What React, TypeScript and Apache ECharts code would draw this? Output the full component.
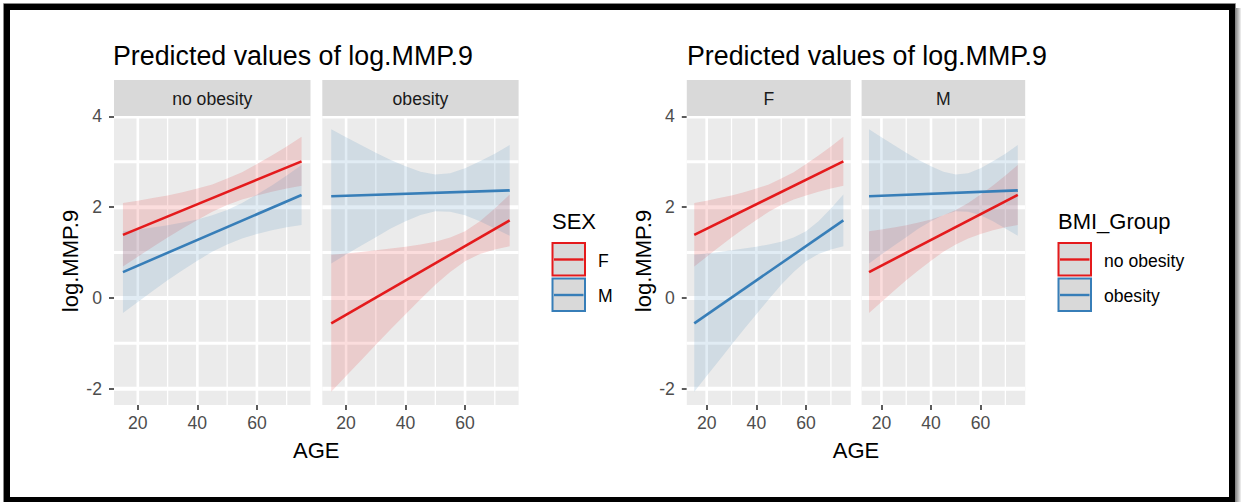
import React, { useEffect, useRef } from 'react';
import * as echarts from 'echarts';

// ---------- data ----------
const ages = [15, 20, 25, 30, 35, 40, 45, 50, 55, 60, 65, 70, 75];
const lineAges = [15, 75];

// predicted lines (endpoints at age 15 and 75)
const fNoObLine = [1.39, 3.01];
const mNoObLine = [0.57, 2.27];
const fObLine = [-0.56, 1.71];
const mObLine = [2.24, 2.37];

// confidence ribbons
const fNoObUpper = [2.09, 2.14, 2.2, 2.26, 2.33, 2.41, 2.5, 2.63, 2.77, 2.95, 3.14, 3.34, 3.55];
const fNoObLower = [0.69, 0.91, 1.12, 1.33, 1.53, 1.72, 1.9, 2.05, 2.17, 2.26, 2.34, 2.41, 2.47];
const mNoObUpper = [1.47, 1.51, 1.55, 1.6, 1.66, 1.73, 1.82, 1.94, 2.09, 2.28, 2.48, 2.7, 2.93];
const mNoObLower = [-0.33, -0.09, 0.15, 0.39, 0.61, 0.82, 1.02, 1.18, 1.31, 1.41, 1.49, 1.56, 1.61];
const mObUpper = [3.72, 3.54, 3.37, 3.2, 3.04, 2.9, 2.78, 2.72, 2.75, 2.86, 3.01, 3.18, 3.37];
const mObLower = [0.76, 0.96, 1.15, 1.34, 1.53, 1.69, 1.83, 1.91, 1.9, 1.82, 1.69, 1.53, 1.37];
const fObUpper = [0.95, 0.98, 1.01, 1.05, 1.09, 1.13, 1.18, 1.24, 1.33, 1.47, 1.69, 1.97, 2.28];
const fObLower = [-2.07, -1.72, -1.38, -1.03, -0.69, -0.36, -0.03, 0.29, 0.57, 0.81, 0.97, 1.07, 1.14];

const xTicks = [20, 40, 60];
const xMinor = [30, 50, 70];
const yTicks = [-2, 0, 2, 4];
const yMinor = [-1, 1, 3];

const leftFacets = ['no obesity', 'obesity'];
const rightFacets = ['F', 'M'];
const leftLegendTitle = 'SEX';
const leftLegend = ['F', 'M'];
const rightLegendTitle = 'BMI_Group';
const rightLegend = ['no obesity', 'obesity'];
const titleText = 'Predicted values of log.MMP.9';
const yName = 'log.MMP.9';
const xName = 'AGE';

// ---------- style ----------
const RED = '#E41A1C';
const BLUE = '#377EB8';
const RED_FILL = 'rgba(228,26,28,0.15)';
const BLUE_FILL = 'rgba(55,126,184,0.15)';
const FONT = '"Liberation Sans", Arial, Helvetica, sans-serif';
const X_MIN = 12;
const X_MAX = 78;
const Y_MIN = -2.36;
const Y_MAX = 4.01;
const PANEL_TOP = 116;
const PANEL_H = 289;
const STRIP_TOP = 80;
const STRIP_H = 36;

const panels = [
  { left: 114, width: 196.5 },
  { left: 322.3, width: 196.3 },
  { left: 686.8, width: 164 },
  { left: 861.6, width: 163.6 },
];

function ribbon(gi: number, lower: number[], upper: number[], fill: string) {
  return {
    type: 'custom',
    xAxisIndex: gi,
    yAxisIndex: gi,
    silent: true,
    clip: true,
    z: 2,
    data: ages.map((a, i) => [a, lower[i], upper[i]]),
    encode: { x: 0, y: [1, 2] },
    renderItem: (params: any, api: any) => {
      if (params.dataIndexInside !== 0) return null;
      const n = params.dataInsideLength;
      const top: number[][] = [];
      const bot: number[][] = [];
      for (let i = 0; i < n; i++) {
        const x = api.value(0, i);
        top.push(api.coord([x, api.value(2, i)]));
        bot.push(api.coord([x, api.value(1, i)]));
      }
      return {
        type: 'polygon',
        shape: { points: top.concat(bot.reverse()) },
        style: { fill },
      };
    },
  };
}

function line(gi: number, vals: number[], color: string) {
  return {
    type: 'line',
    xAxisIndex: gi,
    yAxisIndex: gi,
    silent: true,
    z: 3,
    symbol: 'none',
    data: lineAges.map((a, i) => [a, vals[i]]),
    lineStyle: { color, width: 2.6 },
    itemStyle: { color },
  };
}

function gridLine(gi: number, v: number, orient: 'h' | 'v', width: number, z: number) {
  const data = orient === 'h' ? [[X_MIN, v], [X_MAX, v]] : [[v, Y_MIN], [v, Y_MAX]];
  return {
    type: 'line',
    xAxisIndex: gi,
    yAxisIndex: gi,
    silent: true,
    z,
    symbol: 'none',
    data,
    lineStyle: { color: '#ffffff', width },
    itemStyle: { color: '#ffffff' },
  };
}

function txt(text: string, x: number, y: number, size: number, opts: any = {}) {
  return {
    type: 'text',
    x,
    y,
    rotation: opts.rotation || 0,
    silent: true,
    z: 10,
    style: {
      text,
      fill: opts.fill || '#000000',
      font: `${size}px ${FONT}`,
      align: opts.align || 'left',
      verticalAlign: 'middle',
    },
  };
}

function legendBlock(x: number, title: string, labels: string[]) {
  const colors = [RED, BLUE];
  const els: any[] = [txt(title, x, 221, 22)];
  labels.forEach((lab, i) => {
    const y0 = 243 + i * 35.5;
    els.push({
      type: 'rect',
      silent: true,
      z: 10,
      shape: { x: x + 0.5, y: y0, width: 32.5, height: 32.5 },
      style: { fill: '#d9d9d9', stroke: colors[i], lineWidth: 2 },
    });
    els.push({
      type: 'line',
      silent: true,
      z: 11,
      shape: { x1: x + 2, y1: y0 + 16.5, x2: x + 31.5, y2: y0 + 16.5 },
      style: { stroke: colors[i], lineWidth: 2.4 },
    });
    els.push(txt(lab, x + 46, y0 + 17.5, 17.6));
  });
  return els;
}

export default function App() {
  const ref = useRef<HTMLDivElement>(null);

  useEffect(() => {
    if (!ref.current) return;
    const chart = echarts.init(ref.current, undefined, { renderer: 'svg' });

    const grid = panels.map((p) => ({
      left: p.left,
      top: PANEL_TOP,
      width: p.width,
      height: PANEL_H,
      show: true,
      backgroundColor: '#EBEBEB',
      borderWidth: 0,
    }));

    const xAxis = panels.map((_, i) => ({
      type: 'value',
      gridIndex: i,
      min: X_MIN,
      max: X_MAX,
      axisLine: { show: false, onZero: false },
      splitLine: { show: false },
      axisTick: {
        show: true,
        customValues: xTicks,
        length: 5,
        lineStyle: { color: '#333333', width: 1.6 },
      },
      axisLabel: {
        show: true,
        customValues: xTicks,
        margin: 9,
        color: '#4D4D4D',
        fontSize: 17.6,
        fontFamily: FONT,
      },
    }));

    const yAxis = panels.map((_, i) =>
      i % 2 === 1
        ? {
            type: 'value',
            gridIndex: i,
            min: Y_MIN,
            max: Y_MAX,
            axisLine: { show: false, onZero: false },
            splitLine: { show: false },
            axisTick: { show: false },
            axisLabel: { show: false },
          }
        : {
            type: 'value',
            gridIndex: i,
            min: Y_MIN,
            max: Y_MAX,
            axisLine: { show: false, onZero: false },
            splitLine: { show: false },
            axisTick: {
              show: true,
              customValues: yTicks,
              length: 5,
              lineStyle: { color: '#333333', width: 1.6 },
            },
            axisLabel: {
              show: true,
              customValues: yTicks,
              margin: 12,
              color: '#4D4D4D',
              fontSize: 17.6,
              fontFamily: FONT,
            },
          }
    );

    const series: any[] = [];
    panels.forEach((_, gi) => {
      yMinor.forEach((v) => series.push(gridLine(gi, v, 'h', 3, 1.5)));
      xMinor.forEach((v) => series.push(gridLine(gi, v, 'v', 1.3, 1)));
      yTicks.forEach((v) => series.push(gridLine(gi, v, 'h', 4, 1.5)));
      xTicks.forEach((v) => series.push(gridLine(gi, v, 'v', 2.6, 1)));
    });
    // left plot: facet by BMI group, colour by SEX
    series.push(ribbon(0, fNoObLower, fNoObUpper, RED_FILL));
    series.push(ribbon(0, mNoObLower, mNoObUpper, BLUE_FILL));
    series.push(line(0, fNoObLine, RED));
    series.push(line(0, mNoObLine, BLUE));
    series.push(ribbon(1, fObLower, fObUpper, RED_FILL));
    series.push(ribbon(1, mObLower, mObUpper, BLUE_FILL));
    series.push(line(1, fObLine, RED));
    series.push(line(1, mObLine, BLUE));
    // right plot: facet by SEX, colour by BMI group
    series.push(ribbon(2, fNoObLower, fNoObUpper, RED_FILL));
    series.push(ribbon(2, fObLower, fObUpper, BLUE_FILL));
    series.push(line(2, fNoObLine, RED));
    series.push(line(2, fObLine, BLUE));
    series.push(ribbon(3, mNoObLower, mNoObUpper, RED_FILL));
    series.push(ribbon(3, mObLower, mObUpper, BLUE_FILL));
    series.push(line(3, mNoObLine, RED));
    series.push(line(3, mObLine, BLUE));

    const facetNames = [...leftFacets, ...rightFacets];
    const graphic: any[] = [];
    // frame
    graphic.push({
      type: 'rect',
      silent: true,
      z: 20,
      shape: { x: 3.5, y: 3.5, width: 1232, height: 505 },
      style: { fill: 'none', stroke: '#8a8a8a', lineWidth: 1 },
    });
    graphic.push({
      type: 'rect',
      silent: true,
      z: 21,
      shape: { x: 1235, y: 8, width: 6, height: 494 },
      style: {
        fill: new echarts.graphic.LinearGradient(0, 0, 1, 0, [
          { offset: 0, color: '#7a7a7a' },
          { offset: 1, color: '#f2f2f2' },
        ]),
      },
    });
    graphic.push({
      type: 'rect',
      silent: true,
      z: 22,
      shape: { x: 7, y: 7, width: 1225, height: 493 },
      style: { fill: 'none', stroke: '#000000', lineWidth: 6 },
    });
    // titles
    graphic.push(txt(titleText, 113, 56, 26.8));
    graphic.push(txt(titleText, 687, 56, 26.8));
    // strips
    panels.forEach((p, i) => {
      graphic.push({
        type: 'rect',
        silent: true,
        z: 9,
        shape: { x: p.left, y: STRIP_TOP, width: p.width, height: STRIP_H },
        style: { fill: '#D9D9D9' },
      });
      graphic.push(
        txt(facetNames[i], p.left + p.width / 2, STRIP_TOP + STRIP_H / 2 + 1, 17.6, {
          align: 'center',
          fill: '#1A1A1A',
        })
      );
    });
    // axis titles
    graphic.push(txt(xName, (panels[0].left + panels[1].left + panels[1].width) / 2, 450, 22, { align: 'center' }));
    graphic.push(txt(xName, (panels[2].left + panels[3].left + panels[3].width) / 2, 450, 22, { align: 'center' }));
    graphic.push(txt(yName, 70, 261, 22, { align: 'center', rotation: Math.PI / 2 }));
    graphic.push(txt(yName, 643, 261, 22, { align: 'center', rotation: Math.PI / 2 }));
    // legends
    graphic.push(...legendBlock(552, leftLegendTitle, leftLegend));
    graphic.push(...legendBlock(1058, rightLegendTitle, rightLegend));

    chart.setOption({
      animation: false,
      backgroundColor: '#ffffff',
      grid,
      xAxis,
      yAxis,
      series,
      graphic,
    });

    return () => {
      chart.dispose();
    };
  }, []);

  return (
    <div
      ref={ref}
      style={{ position: 'absolute', left: 0, top: 0, width: 1241, height: 502 }}
    />
  );
}
